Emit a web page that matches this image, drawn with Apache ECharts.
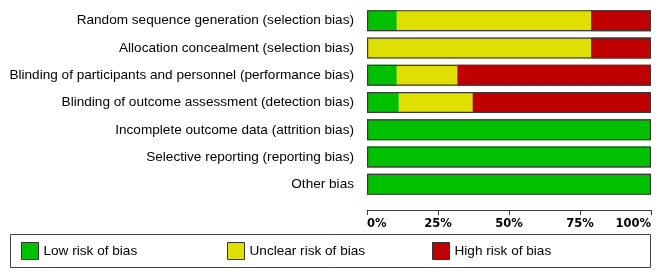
<!DOCTYPE html>
<html>
<head>
<meta charset="utf-8">
<script src="https://cdn.jsdelivr.net/npm/echarts@6/dist/echarts.min.js"></script>
<style>
  html, body { margin: 0; padding: 0; background: #fff; }
  #chart { width: 661px; height: 278px; }
</style>
</head>
<body>
<div id="chart"></div>
<script>
// risk of bias domains, top to bottom
const categories = [
  'Random sequence generation (selection bias)',
  'Allocation concealment (selection bias)',
  'Blinding of participants and personnel (performance bias)',
  'Blinding of outcome assessment (detection bias)',
  'Incomplete outcome data (attrition bias)',
  'Selective reporting (reporting bias)',
  'Other bias'
]
// percent of studies per judgement
const lowRisk = [10.5, 0, 10.5, 11.2, 100, 100, 100]
const unclearRisk = [68.4, 78.9, 21.3, 26.0, 0, 0, 0]
const highRisk = [21.1, 21.1, 68.2, 62.8, 0, 0, 0]
const outline = [100, 100, 100, 100, 100, 100, 100]
const tickValues = [0, 25, 50, 75, 100]

const legendNames = ['Low risk of bias', 'Unclear risk of bias', 'High risk of bias']
const colors = ['#00c000', '#e0e000', '#c00000']

const chart = echarts.init(document.getElementById('chart'), null, { renderer: 'canvas' })

const labelFont = 'Liberation Sans, Arial, sans-serif'

const xAxisBase = {
  type: 'value',
  min: tickValues[0],
  max: tickValues[tickValues.length - 1],
  interval: 25,
  offset: 12,
  splitLine: { show: false },
  axisLine: { show: true, lineStyle: { color: '#3a3a3a', width: 1 } }
}

// one legend per item so each sits at its own spot in the box
const legendLefts = [21, 227, 432]
const legends = legendNames.map((name, i) => ({
  data: [name],
  left: legendLefts[i],
  top: 242,
  padding: 0,
  itemWidth: 17,
  itemHeight: 17,
  icon: 'rect',
  selectedMode: false,
  itemStyle: { borderColor: '#333', borderWidth: 1 },
  textStyle: { fontSize: 13.6, fontFamily: labelFont, color: '#000' }
}))

const segment = (name, data, color) => ({
  name: name,
  type: 'bar',
  stack: 'total',
  data: data,
  barWidth: 21,
  itemStyle: { color: color },
  emphasis: { disabled: true }
})

chart.setOption({
  animation: false,
  backgroundColor: '#fff',
  grid: { left: 367, right: 10, top: 7, bottom: 80 },
  legend: legends,
  graphic: [{
    type: 'rect',
    shape: { x: 10.5, y: 234.5, width: 640, height: 33 },
    style: { fill: 'none', stroke: '#444', lineWidth: 1 },
    silent: true
  }],
  xAxis: [
    Object.assign({}, xAxisBase, {
      axisTick: { show: true, length: 5, lineStyle: { color: '#3a3a3a' } },
      axisLabel: {
        show: true,
        margin: 8,
        color: '#000',
        fontWeight: 'bold',
        fontSize: 11.5,
        fontFamily: 'DejaVu Sans, Verdana, sans-serif',
        alignMinLabel: 'left',
        alignMaxLabel: 'right',
        formatter: '{value}%'
      }
    }),
    Object.assign({}, xAxisBase, {
      axisTick: { show: true, inside: true, length: 5, lineStyle: { color: '#3a3a3a' } },
      axisLabel: { show: false }
    })
  ],
  yAxis: {
    type: 'category',
    data: categories,
    inverse: true,
    axisLine: { show: false },
    axisTick: { show: false },
    axisLabel: {
      margin: 13,
      color: '#000',
      fontSize: 13.6,
      fontFamily: labelFont
    }
  },
  series: [
    segment(legendNames[0], lowRisk, colors[0]),
    segment(legendNames[1], unclearRisk, colors[1]),
    segment(legendNames[2], highRisk, colors[2]),
    {
      name: 'outline',
      type: 'bar',
      data: outline,
      barWidth: 21,
      barGap: '-100%',
      z: 3,
      silent: true,
      itemStyle: { color: 'rgba(0,0,0,0)', borderColor: '#3a3a3a', borderWidth: 1.2 }
    }
  ]
})
</script>
</body>
</html>
